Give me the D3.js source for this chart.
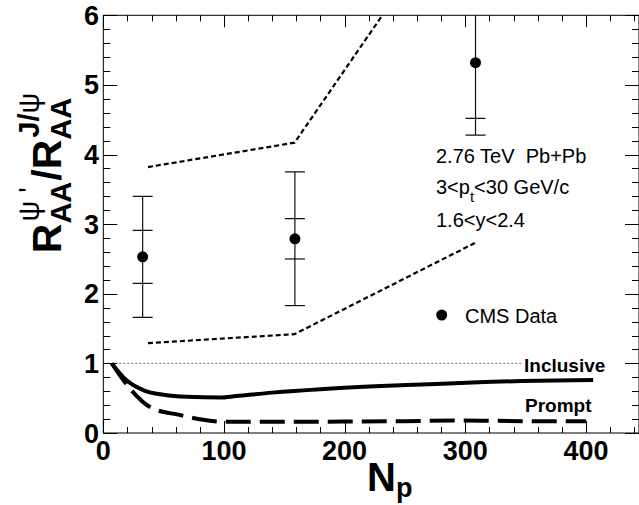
<!DOCTYPE html>
<html>
<head>
<meta charset="utf-8">
<script src="https://cdn.jsdelivr.net/npm/d3@7/dist/d3.min.js"></script>
<style>
  html, body { margin: 0; padding: 0; background: #fff; }
  svg { display: block; }
  text { font-family: 'Liberation Sans', Arial, Helvetica, sans-serif; }
</style>
</head>
<body>
<svg id="chart" width="639" height="505"></svg>
<script>
// Measured psi(2S)/J/psi double ratio (CMS) versus number of participants
const dataNpart = [32.6, 158.8, 308.5];
const dataRatio = [2.53, 2.79, 5.32];
const dataErrInner = [0.38, 0.29, 0.80];
const dataErrOuter = [0.87, 0.96, 1.04];

// Band limits (dotted)
const bandNpart = [37, 158.5, 308];
const bandUpper = [3.82, 4.17, 7.93];
const bandLower = [1.29, 1.42, 2.73];

// Model curves
const inclusiveNpart = [7, 19, 34, 50, 69, 97, 110, 140, 180, 225, 270, 311, 360, 406];
const inclusiveRatio = [1.0, 0.76, 0.61, 0.55, 0.52, 0.51, 0.53, 0.58, 0.63, 0.67, 0.70, 0.73, 0.75, 0.76];
const promptNpart = [7, 23, 40, 63, 83, 100, 150, 200, 250, 300, 350, 400];
const promptRatio = [1.0, 0.62, 0.36, 0.26, 0.19, 0.16, 0.16, 0.165, 0.17, 0.18, 0.17, 0.17];

// Axis ticks
const xTickValues = [0, 100, 200, 300, 400];
const yTickValues = [0, 1, 2, 3, 4, 5, 6];

const svg = d3.select("#chart");
const W = 639, H = 505;
const frameL = 103.3, frameR = 639, frameT = 15.3, frameB = 433;

const x = d3.scaleLinear().domain([0, 444]).range([frameL, frameR]);
const y = d3.scaleLinear().domain([0, 6]).range([frameB, frameT]);

svg.append("rect").attr("width", W).attr("height", H).attr("fill", "#fff");

svg.append("clipPath").attr("id", "plotClip")
  .append("rect").attr("x", frameL).attr("y", frameT)
  .attr("width", frameR - frameL).attr("height", frameB - frameT);

const plot = svg.append("g").attr("clip-path", "url(#plotClip)");

// Reference line at unity
plot.append("line")
  .attr("x1", x(0)).attr("x2", x(347))
  .attr("y1", y(1)).attr("y2", y(1))
  .attr("stroke", "#777").attr("stroke-width", 1)
  .attr("stroke-dasharray", "2,2");

// Dotted band
const bandLine = d3.line().x(d => x(d[0])).y(d => y(d[1]));
[bandUpper, bandLower].forEach(vals => {
  plot.append("path")
    .datum(bandNpart.map((n, i) => [n, vals[i]]))
    .attr("d", bandLine)
    .attr("fill", "none").attr("stroke", "#000")
    .attr("stroke-width", 2.2).attr("stroke-dasharray", "5,3");
});

// Model curves
const curve = d3.line().x(d => x(d[0])).y(d => y(d[1])).curve(d3.curveMonotoneX);
plot.append("path")
  .datum(promptNpart.map((n, i) => [n, promptRatio[i]]))
  .attr("d", curve).attr("fill", "none").attr("stroke", "#000")
  .attr("stroke-width", 4).attr("stroke-dasharray", "25,9");
plot.append("path")
  .datum(inclusiveNpart.map((n, i) => [n, inclusiveRatio[i]]))
  .attr("d", curve).attr("fill", "none").attr("stroke", "#000")
  .attr("stroke-width", 4);

// Data points with two error levels
const pts = dataNpart.map((n, i) => ({ n, v: dataRatio[i], ei: dataErrInner[i], eo: dataErrOuter[i] }));
const eg = plot.append("g").attr("stroke", "#111").attr("stroke-width", 1.2);
pts.forEach(p => {
  const px = x(p.n);
  eg.append("line").attr("x1", px).attr("x2", px)
    .attr("y1", y(p.v - p.eo)).attr("y2", y(p.v + p.eo));
  [p.v - p.eo, p.v - p.ei, p.v + p.ei, p.v + p.eo].forEach(v => {
    eg.append("line").attr("x1", px - 10).attr("x2", px + 10)
      .attr("y1", y(v)).attr("y2", y(v));
  });
});
plot.selectAll("circle.pt").data(pts).join("circle")
  .attr("class", "pt")
  .attr("cx", d => x(d.n)).attr("cy", d => y(d.v)).attr("r", 5.5)
  .attr("fill", "#000");

// Frame and ticks on all four sides
svg.append("rect").attr("x", frameL).attr("y", frameT)
  .attr("width", frameR - frameL).attr("height", frameB - frameT)
  .attr("fill", "none").attr("stroke", "#000").attr("stroke-width", 1);

const xMinor = d3.range(0, 445, 20);
const yMinor = d3.range(0, 6.01, 0.2);
const tk = svg.append("g").attr("stroke", "#000").attr("stroke-width", 1);
xMinor.forEach(v => {
  const major = Math.abs(v % 100) < 1e-6;
  const tl = major ? 12 : 6;
  const px = Math.round(x(v)) + 0.5;
  tk.append("line").attr("x1", px).attr("x2", px).attr("y1", frameB).attr("y2", frameB - tl);
  tk.append("line").attr("x1", px).attr("x2", px).attr("y1", frameT).attr("y2", frameT + tl);
});
yMinor.forEach(v => {
  const major = Math.abs(v - Math.round(v)) < 1e-6;
  const tl = major ? 14 : 7;
  const py = Math.round(y(v)) + 0.5;
  tk.append("line").attr("x1", frameL).attr("x2", frameL + tl).attr("y1", py).attr("y2", py);
  tk.append("line").attr("x1", frameR).attr("x2", frameR - tl).attr("y1", py).attr("y2", py);
});

// Tick labels
svg.append("g").selectAll("text").data(xTickValues).join("text")
  .attr("x", d => x(d)).attr("y", 460)
  .attr("text-anchor", "middle")
  .style("font-weight", "bold").style("font-size", "27px")
  .text(d => d);
svg.append("g").selectAll("text").data(yTickValues).join("text")
  .attr("x", 99).attr("y", d => y(d) + 9.5)
  .attr("text-anchor", "end")
  .style("font-weight", "bold").style("font-size", "27px")
  .text(d => d);

// X axis title
const xt = svg.append("text").attr("x", 367).attr("y", 491)
  .style("font-weight", "bold").style("font-size", "40px");
xt.append("tspan").text("N");
xt.append("tspan").attr("dy", 6).style("font-size", "27px").text("p");

// Y axis title, built piece by piece
const yt = svg.append("g").attr("transform", "translate(61,174) rotate(-90)");
const inner = yt.append("g");
const bigSize = 41, smallSize = 29;
let cursor = 0;
function piece(txt, size, px, py, weight) {
  return inner.append("text").attr("x", px).attr("y", py)
    .style("font-size", size + "px").style("font-weight", weight || "bold").text(txt);
}
function textLen(t) { return t.node().getComputedTextLength(); }
const r1 = piece("R", bigSize, cursor, 0); cursor += textLen(r1);
const s1 = piece("AA", smallSize, cursor, 10);
const p1 = piece("ψ\u00a0'", smallSize, cursor + 2, -22, "normal");
cursor += Math.max(textLen(s1), textLen(p1)) + 1;
const sl = piece("/", bigSize, cursor, 0); cursor += textLen(sl);
const r2 = piece("R", bigSize, cursor, 0); cursor += textLen(r2);
const s2 = piece("AA", smallSize, cursor, 10);
const p2 = inner.append("text").attr("x", cursor + 2).attr("y", -22)
  .style("font-size", smallSize + "px").style("font-weight", "bold");
p2.append("tspan").text("J/");
p2.append("tspan").style("font-weight", "normal").text("ψ");
cursor += Math.max(textLen(s2), textLen(p2));
inner.attr("transform", `translate(${-cursor / 2},0)`);

// Annotations
const ann = svg.append("g").style("font-size", "20px");
ann.append("text").attr("x", 436).attr("y", 163).text("2.76 TeV\u00a0\u00a0Pb+Pb");
const ptxt = ann.append("text").attr("x", 436).attr("y", 194);
ptxt.append("tspan").text("3<p");
ptxt.append("tspan").attr("dy", 8).style("font-size", "15px").text("t");
ptxt.append("tspan").attr("dy", -8).text("<30 GeV/c");
ann.append("text").attr("x", 436).attr("y", 226.5).text("1.6<y<2.4");

// Legend entry
svg.append("circle").attr("cx", 441.7).attr("cy", 315).attr("r", 5.5).attr("fill", "#000");
ann.append("text").attr("x", 465).attr("y", 322.5).text("CMS Data");

// Curve labels
svg.append("text").attr("x", 524).attr("y", 371.5)
  .style("font-size", "19px").style("font-weight", "bold").text("Inclusive");
svg.append("text").attr("x", 525).attr("y", 411.5)
  .style("font-size", "19px").style("font-weight", "bold").text("Prompt");
</script>
</body>
</html>
